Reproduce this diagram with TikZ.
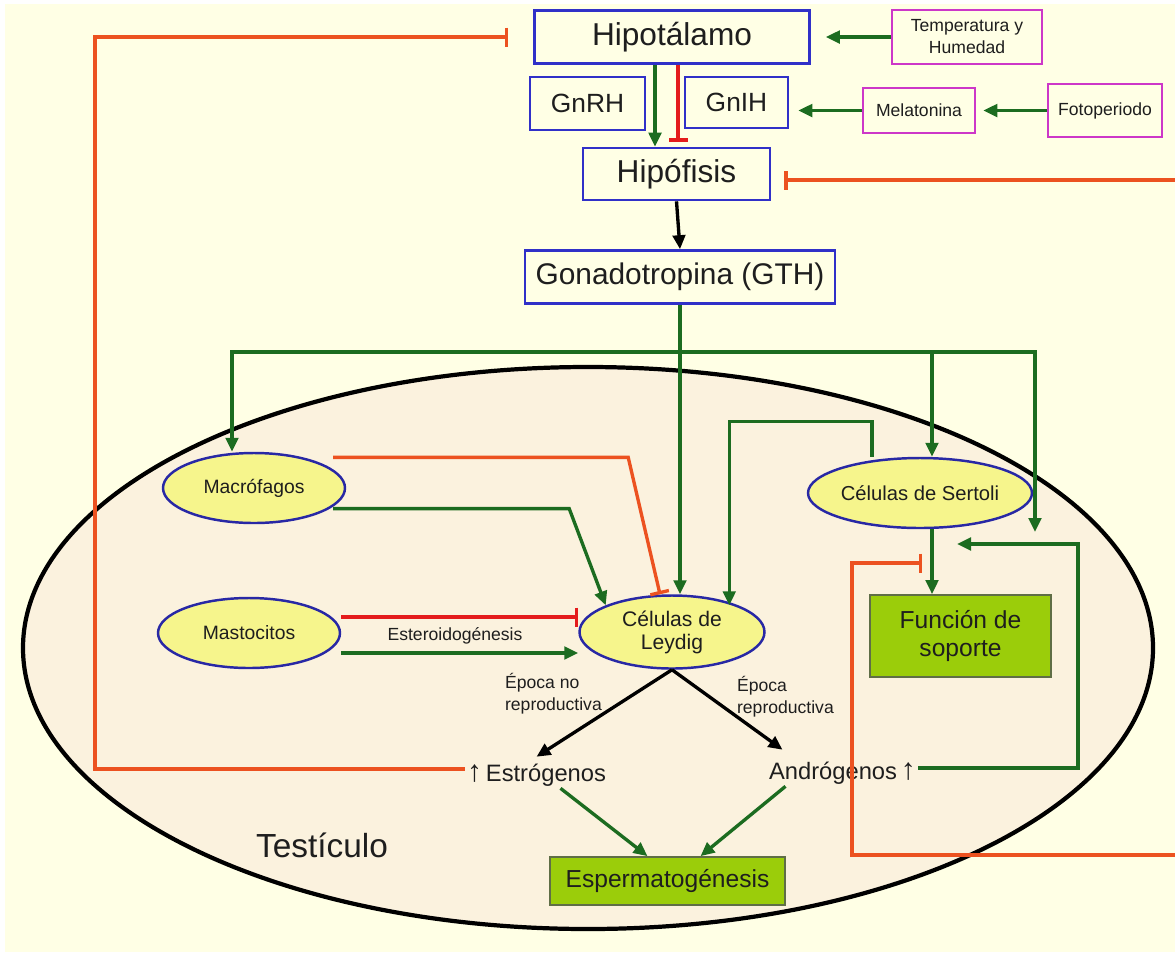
\documentclass[tikz,border=0pt]{standalone}
\usepackage{fontspec}
\setmainfont{Liberation Sans}
\usepackage{xcolor}
\usetikzlibrary{positioning,arrows.meta,shapes.geometric}
\definecolor{bgcream}{RGB}{255,255,229}
\definecolor{testfill}{RGB}{251,242,222}
\definecolor{boxblue}{RGB}{48,48,200}
\definecolor{boxmag}{RGB}{205,55,200}
\definecolor{cellblue}{RGB}{40,40,165}
\definecolor{cellyellow}{RGB}{246,245,140}
\definecolor{leafgreen}{RGB}{155,205,10}
\definecolor{leafedge}{RGB}{95,110,70}
\definecolor{flowgreen}{RGB}{28,108,32}
\definecolor{inhorange}{RGB}{236,82,32}
\definecolor{inhred}{RGB}{228,28,28}
\definecolor{txtdark}{RGB}{30,30,30}
\tikzset{
  hbox/.style={rectangle, draw=boxblue, line width=1.5pt, inner sep=0pt,
    align=center, text=txtdark, font=\fontsize{18}{21}\selectfont},
  ebox/.style={rectangle, draw=boxmag, line width=1.5pt, inner sep=0pt,
    align=center, text=txtdark, font=\fontsize{10}{12.5}\selectfont},
  cell/.style={ellipse, draw=cellblue, fill=cellyellow, line width=1.4pt, inner sep=0pt,
    align=center, text=txtdark, font=\fontsize{11}{13}\selectfont,
    minimum width=3.64cm, minimum height=1.4cm},
  leaf/.style={rectangle, draw=leafedge, fill=leafgreen, line width=1pt, inner sep=0pt,
    align=center, text=txtdark, font=\fontsize{14}{15.5}\selectfont},
  testis/.style={ellipse, draw=black, fill=testfill, line width=2.4pt,
    minimum width=22.6cm, minimum height=11.24cm, inner sep=0pt},
  lbl/.style={inner sep=1pt, align=left, text=txtdark, font=\fontsize{10}{12.5}\selectfont},
  horm/.style={inner sep=1pt, text=txtdark, font=\fontsize{13.5}{16}\selectfont},
  gflow/.style={-{Triangle[length=2.8mm,width=2.5mm]}, draw=flowgreen, line width=1.9pt},
  bflow/.style={-{Triangle[length=2.8mm,width=2.5mm]}, draw=black, line width=1.9pt},
  oinh/.style={-{Bar[width=3.8mm]}, draw=inhorange, line width=1.9pt},
  rinh/.style={-{Bar[width=3.8mm]}, draw=inhred, line width=1.9pt},
}
\newcommand{\rise}{{\fontsize{17}{17}\selectfont\bfseries ↑}}

\begin{document}
\begin{tikzpicture}
% ---- canvas ----
\useasboundingbox (0,0) rectangle (23.5,-19.1);
\fill[white] (0,0) rectangle (23.5,-19.1);
\fill[bgcream] (0.1,-0.08) rectangle (23.5,-19.04);
% ---- testicle ----
\node[testis] (testis) at (11.76,-12.96) {};
\node[lbl, font=\fontsize{19}{22}\selectfont] (testlbl) at (6.44,-16.9) {Testículo};
% ---- hypothalamus / pituitary axis ----
\node[hbox, minimum width=5.5cm, minimum height=1.06cm] (hipo) at (13.44,-0.74) {Hipotálamo};
\node[hbox, minimum width=2.3cm, minimum height=1.06cm, font=\fontsize{15}{18}\selectfont] (gnrh) at (11.75,-2.07) {GnRH};
\node[hbox, minimum width=2.06cm, minimum height=1.02cm, font=\fontsize{15}{18}\selectfont] (gnih) at (14.73,-2.05) {GnIH};
\node[hbox, minimum width=3.74cm, minimum height=1.04cm] (hipof) at (13.53,-3.48) {Hipófisis};
\node[hbox, minimum width=6.2cm, minimum height=1.06cm, font=\fontsize{17}{20}\selectfont] (gth) at (13.6,-5.54) {Gonadotropina (GTH)};
% ---- environment ----
\node[ebox, minimum width=3.0cm, minimum height=1.08cm] (temp) at (19.34,-0.74) {Temperatura y\\Humedad};
\node[ebox, minimum width=2.24cm, minimum height=0.9cm] (mela) at (18.38,-2.21) {Melatonina};
\node[ebox, minimum width=2.28cm, minimum height=1.06cm] (foto) at (22.1,-2.21) {Fotoperiodo};
% ---- cells ----
\node[cell] (macro) at (5.08,-9.76) {Macrófagos};
\node[cell] (masto) at (4.98,-12.66) {Mastocitos};
\node[cell, minimum width=3.7cm, minimum height=1.46cm, font=\fontsize{12}{13}\selectfont] (leydig) at (13.44,-12.64) {Células de\\Leydig};
\node[cell, minimum width=3.68cm, font=\fontsize{11.5}{13}\selectfont] (sertoli) at (18.4,-9.86) {Células de Sertoli};
\node[leaf, minimum width=3.62cm, minimum height=1.64cm] (soporte) at (19.21,-12.72) {Función de\\soporte};
\node[leaf, minimum width=4.7cm, minimum height=0.96cm] (esperm) at (13.35,-17.62) {Espermatogénesis};
% ---- hormones and labels ----
\node[horm] (estro) at (10.73,-15.5) {\rise\,Estrógenos};
\node[horm] (andro) at (16.85,-15.46) {Andrógenos\,\rise};
\node[lbl] (esteroid) at (9.1,-12.72) {Esteroidogénesis};
\node[lbl, anchor=north west] (epno) at (10.06,-13.42) {Época no\\reproductiva};
\node[lbl, anchor=north west] (epsi) at (14.7,-13.48) {Época\\reproductiva};
% ---- junctions ----
\coordinate (bus) at (13.64,-7.04);
\coordinate (sopin) at (20.7,-10.64);
\coordinate (sopin2) at (19.14,-10.88);
\coordinate (supinh) at (18.44,-11.26);
\coordinate (redge1) at (23.5,-3.6);
\coordinate (redge2) at (23.5,-17.1);
% ---- top arrows ----
\draw[gflow, shorten >=0.3cm] (temp.west) -- (hipo.east);
\draw[gflow, shorten >=0.14cm] (foto.west) -- (mela.east);
\draw[gflow, shorten >=0.18cm] (mela.west) -- (mela.west -| gnih.east);
\draw[gflow] ([xshift=-0.34cm]hipo.south) -- ([xshift=-0.34cm]hipo.south |- hipof.north);
\draw[rinh, shorten >=0.1cm] ([xshift=0.12cm]hipo.south) -- ([xshift=0.12cm]hipo.south |- hipof.north);
\draw[bflow] (hipof.south) -- (gth.north);
% ---- gonadotropin distribution ----
\draw[gflow] (gth.south) -- (gth.south |- leydig.north);
\draw[gflow] (bus) -| ([xshift=-0.44cm]macro.north);
\draw[gflow] (bus) -| ([xshift=0.24cm]sertoli.north);
\draw[gflow] (bus) -| (sopin);
% ---- paracrine control of Leydig ----
\draw[oinh] ([xshift=0.28cm,yshift=0.1cm]macro.north east) -- ++(5.9,0) -- ([xshift=-0.24cm]leydig.north);
\draw[gflow] ([xshift=0.28cm,yshift=0.1cm]macro.south east) -- ++(4.72,0) -- (leydig.north west);
\draw[rinh] ([yshift=0.32cm]masto.east) -- ([yshift=0.32cm]masto.east -| leydig.west);
\draw[gflow] ([yshift=-0.4cm]masto.east) -- ([yshift=-0.4cm]masto.east -| leydig.west);
\draw[gflow] ([xshift=-0.96cm]sertoli.north) -- ++(0,0.7) -| ([xshift=-0.18cm]leydig.north east);
\draw[gflow] ([xshift=0.24cm]sertoli.south) -- ([xshift=0.24cm]sertoli.south |- soporte.north);
% ---- steroids ----
\draw[bflow] (leydig.south) -- ([yshift=0.1cm]estro.north);
\draw[bflow] (leydig.south) -- ([xshift=-1.2cm,yshift=0.2cm]andro.north);
\draw[gflow] ([xshift=0.48cm]estro.south) -- ([xshift=-0.4cm]esperm.north);
\draw[gflow] ([xshift=-1.14cm]andro.south) -- ([xshift=0.66cm]esperm.north);
\draw[gflow] ([yshift=0.1cm]andro.east) -- ++(3.2,0) |- (sopin2);
% ---- feedback ----
\draw[oinh, shorten >=0.5cm] ([yshift=0.12cm]estro.west) -- ++(-7.4,0) |- (hipo.west);
\draw[oinh, shorten >=0.26cm] (redge1) -- (redge1 -| hipof.east);
\draw[oinh] (redge2) -| ([xshift=-1.4cm]supinh) -- (supinh);
\end{tikzpicture}
\end{document}
